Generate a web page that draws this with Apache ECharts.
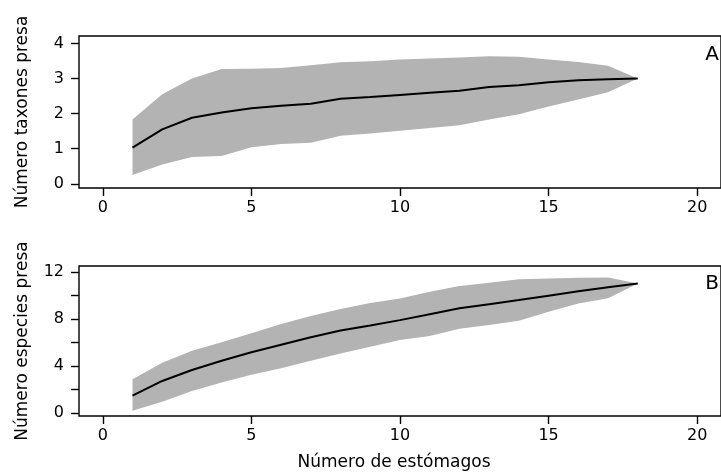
<!DOCTYPE html>
<html>
<head>
<meta charset="utf-8">
<script src="https://cdn.jsdelivr.net/npm/echarts@6/dist/echarts.min.js"></script>
<style>
html,body{margin:0;padding:0;background:#fff;}
#chart{width:721px;height:473px;}
</style>
</head>
<body>
<div id="chart"></div>
<script>
var stomachs = [1,2,3,4,5,6,7,8,9,10,11,12,13,14,15,16,17,18];

var taxaMean  = [1.03,1.55,1.88,2.03,2.15,2.22,2.28,2.42,2.47,2.53,2.59,2.65,2.76,2.81,2.89,2.95,2.98,3.00];
var taxaUpper = [1.83,2.55,3.00,3.27,3.28,3.30,3.38,3.46,3.49,3.54,3.57,3.60,3.63,3.62,3.54,3.47,3.36,3.00];
var taxaLower = [0.25,0.55,0.76,0.79,1.04,1.13,1.17,1.37,1.43,1.51,1.59,1.67,1.83,1.98,2.20,2.40,2.61,3.00];

var speciesMean  = [1.49,2.74,3.67,4.46,5.17,5.81,6.45,7.02,7.45,7.90,8.40,8.90,9.25,9.60,9.97,10.34,10.68,11.00];
var speciesUpper = [2.88,4.29,5.31,6.02,6.78,7.57,8.25,8.84,9.35,9.74,10.30,10.79,11.07,11.36,11.44,11.49,11.52,11.00];
var speciesLower = [0.22,0.98,1.89,2.62,3.27,3.81,4.46,5.08,5.65,6.21,6.55,7.17,7.48,7.85,8.61,9.32,9.75,11.00];

var xTicks = [0,5,10,15,20];
var taxaTicks = [0,1,2,3,4];
var speciesTicks = [0,2,4,6,8,10,12];
var speciesLabels = [0,4,8,12];

var yTitleA = 'Número taxones presa';
var yTitleB = 'Número especies presa';
var xTitle = 'Número de estómagos';
var panelA = 'A';
var panelB = 'B';

var FONT = 'DejaVu Sans';

function pairs(xs, ys){ return xs.map(function(x,i){ return [x, ys[i]]; }); }
function triples(xs, lo, up){ return xs.map(function(x,i){ return [x, lo[i], up[i]]; }); }

function xAxisCfg(gi){
  return {
    type:'value', gridIndex:gi, min:-0.8, max:20.8,
    axisLine:{show:false, onZero:false},
    splitLine:{show:false},
    axisTick:{show:true, length:8, inside:false, customValues:xTicks, lineStyle:{color:'#000', width:1.4}},
    axisLabel:{show:true, customValues:xTicks, margin:12, color:'#000', fontFamily:FONT, fontSize:16}
  };
}
function yAxisCfg(gi, min, max, ticks, labels, name){
  return {
    type:'value', gridIndex:gi, min:min, max:max,
    name:name, nameLocation:'middle', nameGap:48, nameRotate:90,
    nameTextStyle:{color:'#000', fontFamily:FONT, fontSize:17},
    axisLine:{show:false, onZero:false},
    splitLine:{show:false},
    axisTick:{show:true, length:8, inside:false, customValues:ticks, lineStyle:{color:'#000', width:1.4}},
    axisLabel:{show:true, customValues:labels, margin:15, color:'#000', fontFamily:FONT, fontSize:16}
  };
}
function band(gi, lower, upper){
  var data = triples(stomachs, lower, upper);
  return {
    type:'custom', xAxisIndex:gi, yAxisIndex:gi, data:data, silent:true, z:1,
    encode:{x:0, y:[1,2]},
    renderItem:function(params, api){
      if (params.dataIndex !== 0) return null;
      var pts = [];
      for (var i=0;i<data.length;i++) pts.push(api.coord([data[i][0], data[i][2]]));
      for (var j=data.length-1;j>=0;j--) pts.push(api.coord([data[j][0], data[j][1]]));
      return {type:'polygon', shape:{points:pts}, style:{fill:'#b3b3b3', stroke:null}};
    }
  };
}
function meanLine(gi, ys){
  return {type:'line', xAxisIndex:gi, yAxisIndex:gi, data:pairs(stomachs, ys),
    symbol:'none', lineStyle:{color:'#000', width:2}, z:3};
}

var chart = echarts.init(document.getElementById('chart'), null, {renderer:'canvas'});
chart.setOption({
  animation:false,
  backgroundColor:'#fff',
  grid:[
    {left:79, right:-7, top:36, height:152, show:true, borderColor:'#000', borderWidth:1.4, backgroundColor:'transparent', containLabel:false},
    {left:79, right:-7, top:266, height:150, show:true, borderColor:'#000', borderWidth:1.4, backgroundColor:'transparent', containLabel:false}
  ],
  xAxis:[xAxisCfg(0), xAxisCfg(1)],
  yAxis:[
    yAxisCfg(0, -0.12, 4.21, taxaTicks, taxaTicks, yTitleA),
    yAxisCfg(1, -0.23, 12.49, speciesTicks, speciesLabels, yTitleB)
  ],
  series: [
    band(0, taxaLower, taxaUpper), meanLine(0, taxaMean),
    band(1, speciesLower, speciesUpper), meanLine(1, speciesMean)
  ],
  graphic:[
    {type:'text', x:394, y:463, style:{text:xTitle, font:'17px "DejaVu Sans"', fill:'#000', align:'center', verticalAlign:'middle'}},
    {type:'text', x:712, y:55, style:{text:panelA, font:'20px "DejaVu Sans"', fill:'#000', align:'center', verticalAlign:'middle'}},
    {type:'text', x:712, y:284, style:{text:panelB, font:'20px "DejaVu Sans"', fill:'#000', align:'center', verticalAlign:'middle'}}
  ]
});
</script>
</body>
</html>
